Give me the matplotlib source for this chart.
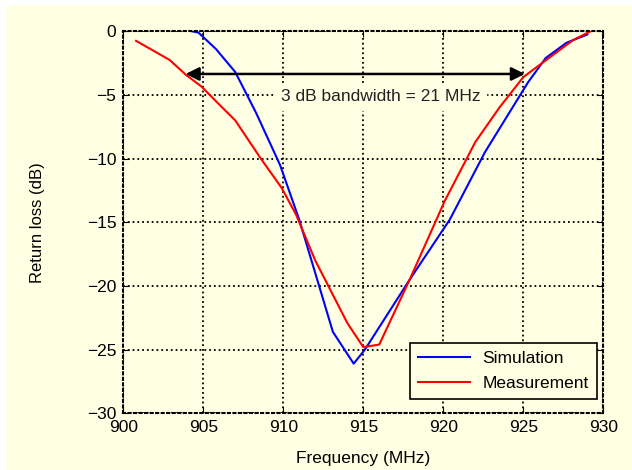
import matplotlib
matplotlib.use("Agg")
import matplotlib.pyplot as plt
from matplotlib.patches import Rectangle

plt.rcParams['font.family'] = ['Liberation Sans', 'DejaVu Sans']

# simulated return loss
sim_f = [904.3, 904.7, 905.8, 907.0, 908.3, 909.8, 911.0, 913.1, 914.4, 915.1,
         917.9, 920.4, 922.6, 925.3, 926.4, 927.7, 929.0]
sim_db = [0.0, -0.1, -1.4, -3.2, -6.4, -10.5, -14.8, -23.6, -26.1, -25.0,
          -19.5, -14.8, -9.5, -4.0, -2.1, -0.9, -0.25]

# measured return loss
meas_f = [900.8, 902.9, 903.9, 904.9, 905.8, 907.0, 908.6, 909.9, 910.8, 912.0,
          914.0, 915.0, 916.0, 917.9, 919.0, 920.1, 922.0, 923.5, 925.0, 926.7,
          928.1, 929.2]
meas_db = [-0.75, -2.25, -3.4, -4.35, -5.5, -7.0, -10.0, -12.3, -14.4, -18.0,
           -22.9, -24.8, -24.6, -19.5, -16.4, -13.3, -8.7, -6.0, -3.6, -2.0,
           -0.7, 0.0]

bw_start, bw_end, bw_level = 903.9, 925.1, -3.35
bw_text = "3 dB bandwidth = 21 MHz"

bg = '#FFFFE3'
fig = plt.figure(figsize=(6.32, 4.70), dpi=100)
fig.patch.set_facecolor('white')
fig.patches.append(Rectangle((5 / 632, 0), 1, 1 - 5 / 470, transform=fig.transFigure,
                             facecolor=bg, edgecolor='none', zorder=-10))

ax = fig.add_axes([0.195, 0.1206, 0.7596, 0.8128])
ax.set_facecolor(bg)

ax.plot(sim_f, sim_db, color='#0000FF', lw=1.5, label='Simulation')
ax.plot(meas_f, meas_db, color='#FF0000', lw=1.5, label='Measurement')

ax.annotate('', xy=(bw_start, bw_level), xytext=(bw_end, bw_level),
            arrowprops=dict(arrowstyle='<|-|>', color='black', lw=1.8,
                            mutation_scale=20, shrinkA=0, shrinkB=0))
ax.text(916.1, -5.15, bw_text, ha='center', va='center', fontsize=12.5,
        color='#222222', backgroundcolor=bg)

ax.set_xlim(900, 930)
ax.set_ylim(-30, 0)
ax.set_xticks(range(900, 931, 5))
ax.set_yticks(range(-30, 1, 5))
ax.grid(True, color='black', linestyle=':', linewidth=1.3)
ax.tick_params(direction='in', length=4, labelsize=12.5, pad=5, colors='black',
               top=True, right=True)
for s in ax.spines.values():
    s.set_linestyle(':')
    s.set_linewidth(1.5)

ax.set_xlabel('Frequency (MHz)', fontsize=12.5, labelpad=11)
ax.set_ylabel('Return loss (dB)', fontsize=12, labelpad=30)

leg = ax.legend(loc='lower right', fontsize=12.5, handlelength=3.0,
                handletextpad=0.7, fancybox=False, framealpha=1, facecolor=bg,
                edgecolor='black', borderpad=0.45, borderaxespad=0,
                labelspacing=0.6, bbox_to_anchor=(0.986, 0.037))
leg.get_frame().set_linewidth(1.2)

fig.savefig('out.png', dpi=100, facecolor=fig.get_facecolor())
